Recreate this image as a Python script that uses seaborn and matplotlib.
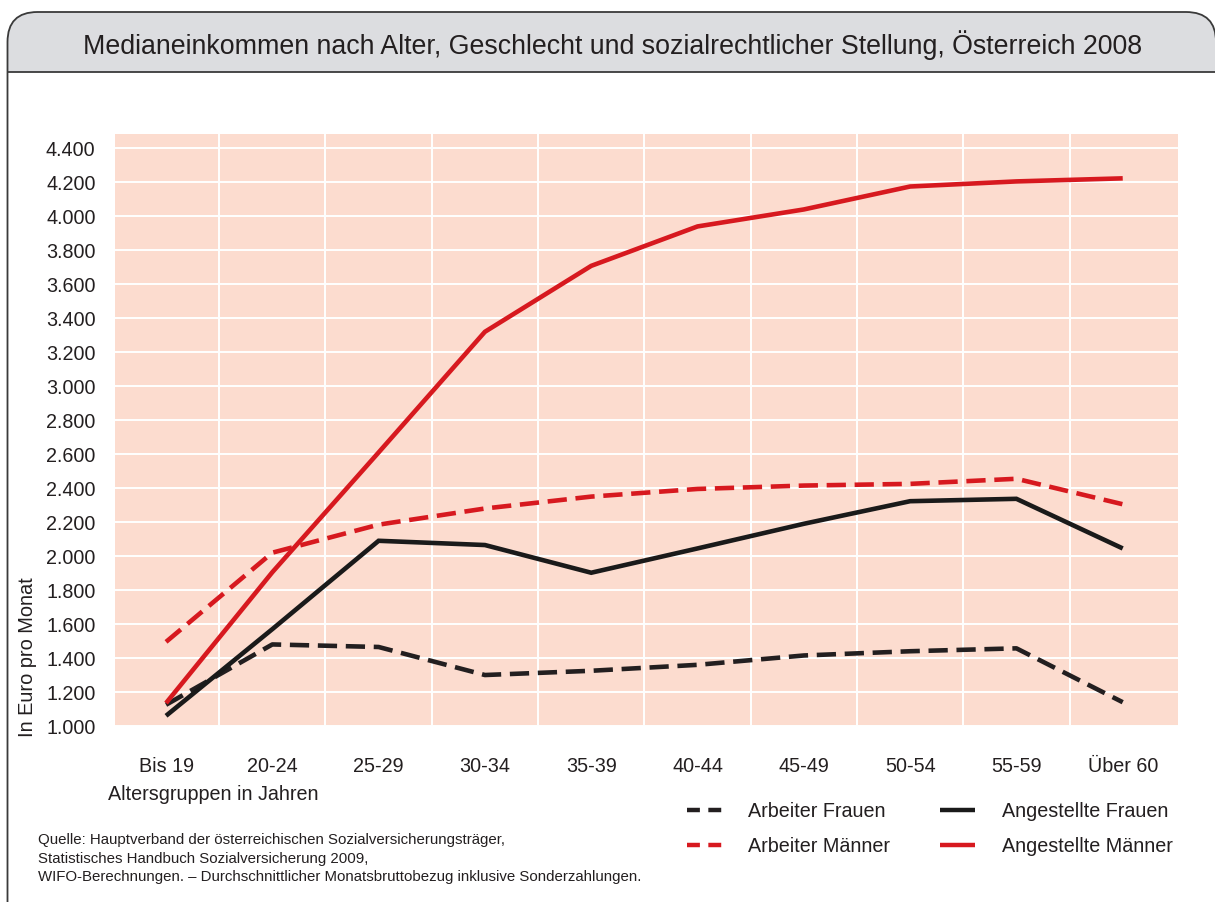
import numpy as np
import pandas as pd
import matplotlib
matplotlib.use("Agg")
import matplotlib.pyplot as plt
import seaborn as sns
from matplotlib.patches import FancyBboxPatch, Rectangle
from matplotlib.lines import Line2D
from matplotlib.transforms import Affine2D
from matplotlib.ticker import FixedLocator, FuncFormatter

# ---------------- data ----------------
categories = ["Bis 19", "20-24", "25-29", "30-34", "35-39",
              "40-44", "45-49", "50-54", "55-59", "Über 60"]
arbeiter_frauen = [1125, 1480, 1465, 1300, 1325, 1360, 1415, 1440, 1457, 1140]
arbeiter_maenner = [1495, 2020, 2185, 2280, 2350, 2395, 2415, 2425, 2455, 2305]
angestellte_frauen = [1060, 1570, 2090, 2065, 1902, 2045, 2190, 2323, 2337, 2045]
angestellte_maenner = [1135, 1905, 2610, 3320, 3708, 3940, 4040, 4175, 4205, 4223]
series_names = ["Arbeiter Frauen", "Arbeiter Männer", "Angestellte Frauen", "Angestellte Männer"]
y_ticks = list(range(1000, 4401, 200))

title = "Medianeinkommen nach Alter, Geschlecht und sozialrechtlicher Stellung, Österreich 2008"
ylabel = "In Euro pro Monat"
xlabel = "Altersgruppen in Jahren"
source_lines = [
    "Quelle: Hauptverband der österreichischen Sozialversicherungsträger,",
    "Statistisches Handbuch Sozialversicherung 2009,",
    "WIFO-Berechnungen. – Durchschnittlicher Monatsbruttobezug inklusive Sonderzahlungen.",
]

# ---------------- styles ----------------
RED = "#d7191f"
BLK = "#1a1a1a"
DBLK = "#231f20"
TXT = "#231f20"
palette = {"Arbeiter Frauen": DBLK, "Arbeiter Männer": RED,
           "Angestellte Frauen": BLK, "Angestellte Männer": RED}
dashes = {"Arbeiter Frauen": (4.2, 1.9), "Arbeiter Männer": (4.2, 1.9),
          "Angestellte Frauen": "", "Angestellte Männer": ""}

df = pd.DataFrame({
    "Alter": categories * 4,
    "Einkommen": arbeiter_frauen + arbeiter_maenner + angestellte_frauen + angestellte_maenner,
    "Gruppe": sum([[n] * len(categories) for n in series_names], []),
})
df["Alter"] = pd.Categorical(df["Alter"], categories=categories, ordered=True)

sns.set_style("white")
plt.rcParams["font.family"] = ["Liberation Sans", "DejaVu Sans"]

W, H = 1215, 902
fig = plt.figure(figsize=(W / 100, H / 100), dpi=100)
px = Affine2D().scale(1 / 100) + fig.dpi_scale_trans  # pixel coords, y up


def Y(y):
    return H - y


# ---------------- frame ----------------
frame = FancyBboxPatch((7.5, Y(1000)), 1216 - 7.5, 1000 - 12,
                       boxstyle="round,pad=0,rounding_size=30",
                       transform=px, facecolor="white", edgecolor="none", zorder=-3)
fig.add_artist(frame)
header = Rectangle((0, Y(72)), W + 10, 72, transform=px,
                   facecolor="#dcdde0", edgecolor="none", zorder=-2)
header.set_clip_path(frame)
fig.add_artist(header)
fig.add_artist(Line2D([7.5, W], [Y(72), Y(72)], transform=px, color="#3a3a3a", lw=1.3, zorder=-1))
frame_edge = FancyBboxPatch((7.5, Y(1000)), 1216 - 7.5, 1000 - 12,
                            boxstyle="round,pad=0,rounding_size=30",
                            transform=px, facecolor="none", edgecolor="#3a3a3a", lw=1.3, zorder=-1)
fig.add_artist(frame_edge)

fig.text(613 / W, 1 - 45 / H, title, ha="center", va="center", fontsize=19.3, color=TXT)

# ---------------- axes ----------------
ax = fig.add_axes([115 / W, (H - 726) / H, (1178 - 115) / W, (726 - 134) / H])
ax.set_zorder(1)
ax.set_facecolor("#fcdccf")

sns.lineplot(data=df, x="Alter", y="Einkommen", hue="Gruppe", style="Gruppe",
             hue_order=series_names, style_order=series_names,
             palette=palette, dashes=dashes, linewidth=3.3, errorbar=None,
             sort=False, legend=False, ax=ax)
for ln in ax.lines:
    ln.set_solid_capstyle("butt")
    ln.set_dash_capstyle("butt")
    ln.set_solid_joinstyle("miter")

ax.set_xlim(-0.48, 9.52)
ax.set_ylim(1000, 4484)
ax.set_yticks(y_ticks)
ax.yaxis.set_major_formatter(FuncFormatter(lambda v, p: f"{int(v):,}".replace(",", ".")))
ax.xaxis.set_minor_locator(FixedLocator(np.arange(0.5, 9, 1)))
ax.grid(False)
ax.grid(axis="y", which="major", color="white", lw=1.4)
ax.grid(axis="x", which="minor", color="white", lw=1.4)
ax.set_axisbelow(True)
ax.tick_params(which="both", length=0)
ax.tick_params(axis="y", pad=14, labelsize=14.2, labelcolor=TXT)
ax.tick_params(axis="x", pad=22, labelsize=14.2, labelcolor=TXT)
ax.set_xlabel("")
ax.set_ylabel("")
for s in ax.spines.values():
    s.set_visible(False)

fig.text(28 / W, 1 - 737 / H, ylabel, rotation=90, ha="center", va="bottom", fontsize=14.4, color=TXT)
fig.text(108 / W, 1 - 795 / H, xlabel, ha="left", va="center", fontsize=14.2, color=TXT)
for i, line in enumerate(source_lines):
    fig.text(38 / W, 1 - (840 + 18.5 * i) / H, line, ha="left", va="center", fontsize=10.85, color=TXT)

# ---------------- legend ----------------
handles = [
    Line2D([], [], color=DBLK, lw=3.2, dashes=(2.9, 1.9), dash_capstyle="butt"),
    Line2D([], [], color=RED, lw=3.2, dashes=(2.9, 1.9), dash_capstyle="butt"),
    Line2D([], [], color=BLK, lw=3.2, solid_capstyle="butt"),
    Line2D([], [], color=RED, lw=3.2, solid_capstyle="butt"),
]
fig.legend(handles, series_names, ncol=2, loc="center left",
           bbox_to_anchor=(687 / W, 1 - 829 / H), frameon=False,
           fontsize=14.2, handlelength=1.75, handletextpad=1.35,
           columnspacing=2.55, labelspacing=0.82, borderpad=0, borderaxespad=0,
           labelcolor=TXT)

fig.savefig("out.png", dpi=100)
